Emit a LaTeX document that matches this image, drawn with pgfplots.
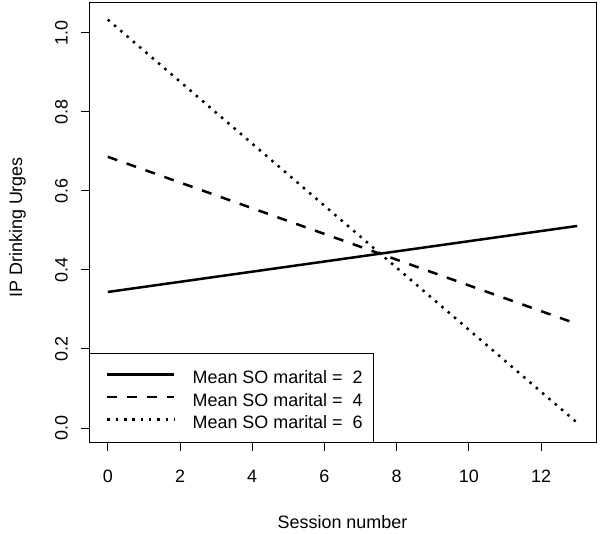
\documentclass[border=0pt]{standalone}
\usepackage{pgfplots}
\pgfplotsset{compat=1.18}
\usepackage{fontspec}
\setmainfont{Liberation Sans}
\begin{document}
\begin{tikzpicture}[x=1bp,y=1bp]
\path[use as bounding box] (0,0) rectangle (600,534);
\begin{axis}[
  at={(89bp,91bp)}, anchor=south west,
  scale only axis, width=507bp, height=440bp,
  xmin=-0.52, xmax=13.52, ymin=-0.038, ymax=1.075,
  font=\fontsize{18}{21}\selectfont,
  axis line style={line width=1bp},
  tick style={black, line width=0.9bp},
  tick align=outside, major tick length=8bp,
  xtick pos=left, ytick pos=left,
  xtick={0,2,4,6,8,10,12},
  ytick={0,0.2,0.4,0.6,0.8,1.0},
  /pgf/number format/assume math mode=true,
  yticklabel={\pgfmathprintnumber[fixed,fixed zerofill,precision=1]{\tick}},
  xticklabel style={anchor=north, inner sep=0pt},
  yticklabel style={rotate=90, anchor=south, inner sep=0pt},
  xticklabel shift=19bp,
  yticklabel shift=13bp,
  xlabel={Session number},
  ylabel={IP Drinking Urges},
  xlabel style={at={(axis description cs:0.5,-0.1932)}, anchor=base, inner sep=0pt},
  ylabel style={at={(axis description cs:-0.1321,0.49)}, anchor=base, inner sep=0pt},
  legend cell align=left,
  legend style={at={(0,0)}, anchor=south west, draw=black, line width=0.8bp,
    inner xsep=11bp, inner ysep=14bp, column sep=17bp, row sep=6.5bp,
    font=\fontsize{18}{21}\selectfont,
    nodes={inner sep=0pt, text height=16bp, text depth=0pt}},
  legend image code/.code={
    \path[draw=none] (-7bp,1bp) -- (0bp,1bp);
    \draw[#1] (0bp,1bp) -- (67bp,1bp);
  },
]
\addplot[black, line width=2.5bp, line cap=butt] coordinates {(0,0.344) (13,0.511)};
\addlegendentry{Mean SO marital =\ \ 2}
\addplot[black, line width=2.5bp, line cap=butt, dash pattern=on 10bp off 10bp] coordinates {(0,0.686) (13,0.263)};
\addlegendentry{Mean SO marital =\ \ 4}
\addplot[black, line width=2.5bp, line cap=butt, dash pattern=on 2.5bp off 5.8bp] coordinates {(0,1.033) (13,0.013)};
\addlegendentry{Mean SO marital =\ \ 6}
\end{axis}
\end{tikzpicture}
\end{document}
